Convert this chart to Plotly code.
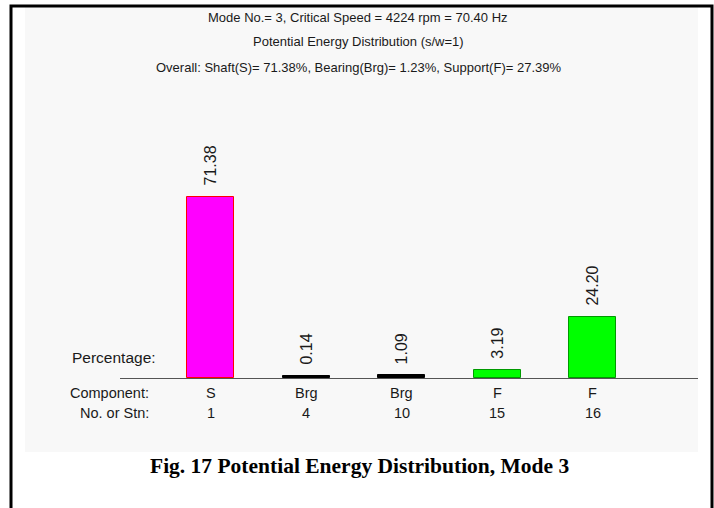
import plotly.graph_objects as go

# ---- data ----
components = ["S", "Brg", "Brg", "F", "F"]
stations = ["1", "4", "10", "15", "16"]
percentages = [71.38, 0.14, 1.09, 3.19, 24.20]
bar_colors = ["#ff00ff", "#000000", "#000000", "#00ff00", "#00ff00"]
bar_edges = ["#ff0000", "#000000", "#000000", "#009a00", "#009a00"]
title_lines = [
    "Mode No.= 3, Critical Speed = 4224 rpm = 70.40 Hz",
    "Potential Energy Distribution (s/w=1)",
    "Overall: Shaft(S)= 71.38%, Bearing(Brg)= 1.23%, Support(F)= 27.39%",
]
caption = "Fig. 17 Potential Energy Distribution, Mode 3"

W, H = 714, 508
FONT = "Liberation Sans, Arial, sans-serif"
TXT = "#1a1a1a"

def px(x):
    return x / W

def py(y):
    return 1 - y / H

xpos = list(range(len(components)))
# display-only bar heights (min visible thickness for tiny values)
disp = [max(v, 0.8) for v in percentages]

fig = go.Figure()
fig.add_trace(go.Bar(
    x=xpos, y=disp, width=0.49,
    marker=dict(color=bar_colors, line=dict(color=bar_edges, width=1)),
    hoverinfo="skip", showlegend=False,
))

# plot geometry
x_left_px, x_right_px = 120, 698
c0, step = 210.5, 95.6
base_px, top_px = 378, 100
scale = 2.536
xr = [(x_left_px - c0) / step, (x_right_px - c0) / step]
yr = [0, (base_px - top_px) / scale]

fig.update_layout(
    width=W, height=H,
    margin=dict(l=0, r=0, t=0, b=0),
    paper_bgcolor="white", plot_bgcolor="rgba(0,0,0,0)",
    font=dict(family=FONT, size=13, color=TXT),
    xaxis=dict(domain=[px(x_left_px), px(x_right_px)], range=xr,
               showgrid=False, zeroline=False, showticklabels=False,
               ticks="", showline=True, linecolor="#555555", linewidth=1),
    yaxis=dict(domain=[py(base_px), py(top_px)], range=yr,
               showgrid=False, zeroline=False, showticklabels=False,
               showline=False),
    bargap=0,
)

shapes = []
# gray panel
shapes.append(dict(type="rect", xref="paper", yref="paper",
                   x0=px(25), x1=px(698), y0=py(452), y1=py(7),
                   fillcolor="#f8f8f8", line=dict(width=0), layer="below"))
# outer frame
shapes.append(dict(type="rect", xref="paper", yref="paper",
                   x0=px(11), x1=px(712), y0=py(512), y1=py(6),
                   line=dict(color="black", width=3), layer="above"))
fig.update_layout(shapes=shapes)

ann = []
for i, line in enumerate(title_lines):
    ann.append(dict(text=line, xref="paper", yref="paper", x=px(358), y=py(17 + 25 * i),
                    xanchor="center", yanchor="middle", showarrow=False,
                    font=dict(size=13, color=TXT, family=FONT)))
# value labels
for i, v in enumerate(percentages):
    ann.append(dict(text=f"{v:.2f}", x=xpos[i], y=disp[i], xref="x", yref="y",
                    textangle=-90, xanchor="center", yanchor="bottom",
                    yshift=9, showarrow=False,
                    font=dict(size=16, color=TXT, family=FONT)))
LBL = 14.5
# row labels
ann.append(dict(text="Percentage:", xref="paper", yref="paper", x=px(70), y=py(357),
                xanchor="left", yanchor="middle", showarrow=False,
                font=dict(size=15.5, color=TXT, family=FONT)))
ann.append(dict(text="Component:", xref="paper", yref="paper", x=px(151), y=py(393),
                xanchor="right", yanchor="middle", showarrow=False,
                font=dict(size=LBL, color=TXT, family=FONT)))
ann.append(dict(text="No. or Stn:", xref="paper", yref="paper", x=px(151), y=py(413),
                xanchor="right", yanchor="middle", showarrow=False,
                font=dict(size=LBL, color=TXT, family=FONT)))
for i in range(len(components)):
    ann.append(dict(text=components[i], x=xpos[i], xref="x", yref="paper", y=py(393),
                    xanchor="center", yanchor="middle", showarrow=False,
                    font=dict(size=LBL, color=TXT, family=FONT)))
    ann.append(dict(text=stations[i], x=xpos[i], xref="x", yref="paper", y=py(413),
                    xanchor="center", yanchor="middle", showarrow=False,
                    font=dict(size=LBL, color=TXT, family=FONT)))
# caption
ann.append(dict(text="<b>" + caption + "</b>", xref="paper", yref="paper", x=px(359), y=py(466),
                xanchor="center", yanchor="middle", showarrow=False,
                font=dict(size=21.5, color="black", family="Liberation Serif, Times New Roman, serif")))
fig.update_layout(annotations=ann)

fig.write_html("out.html", config={"displayModeBar": False},
               post_script="document.body.style.margin='0';")
